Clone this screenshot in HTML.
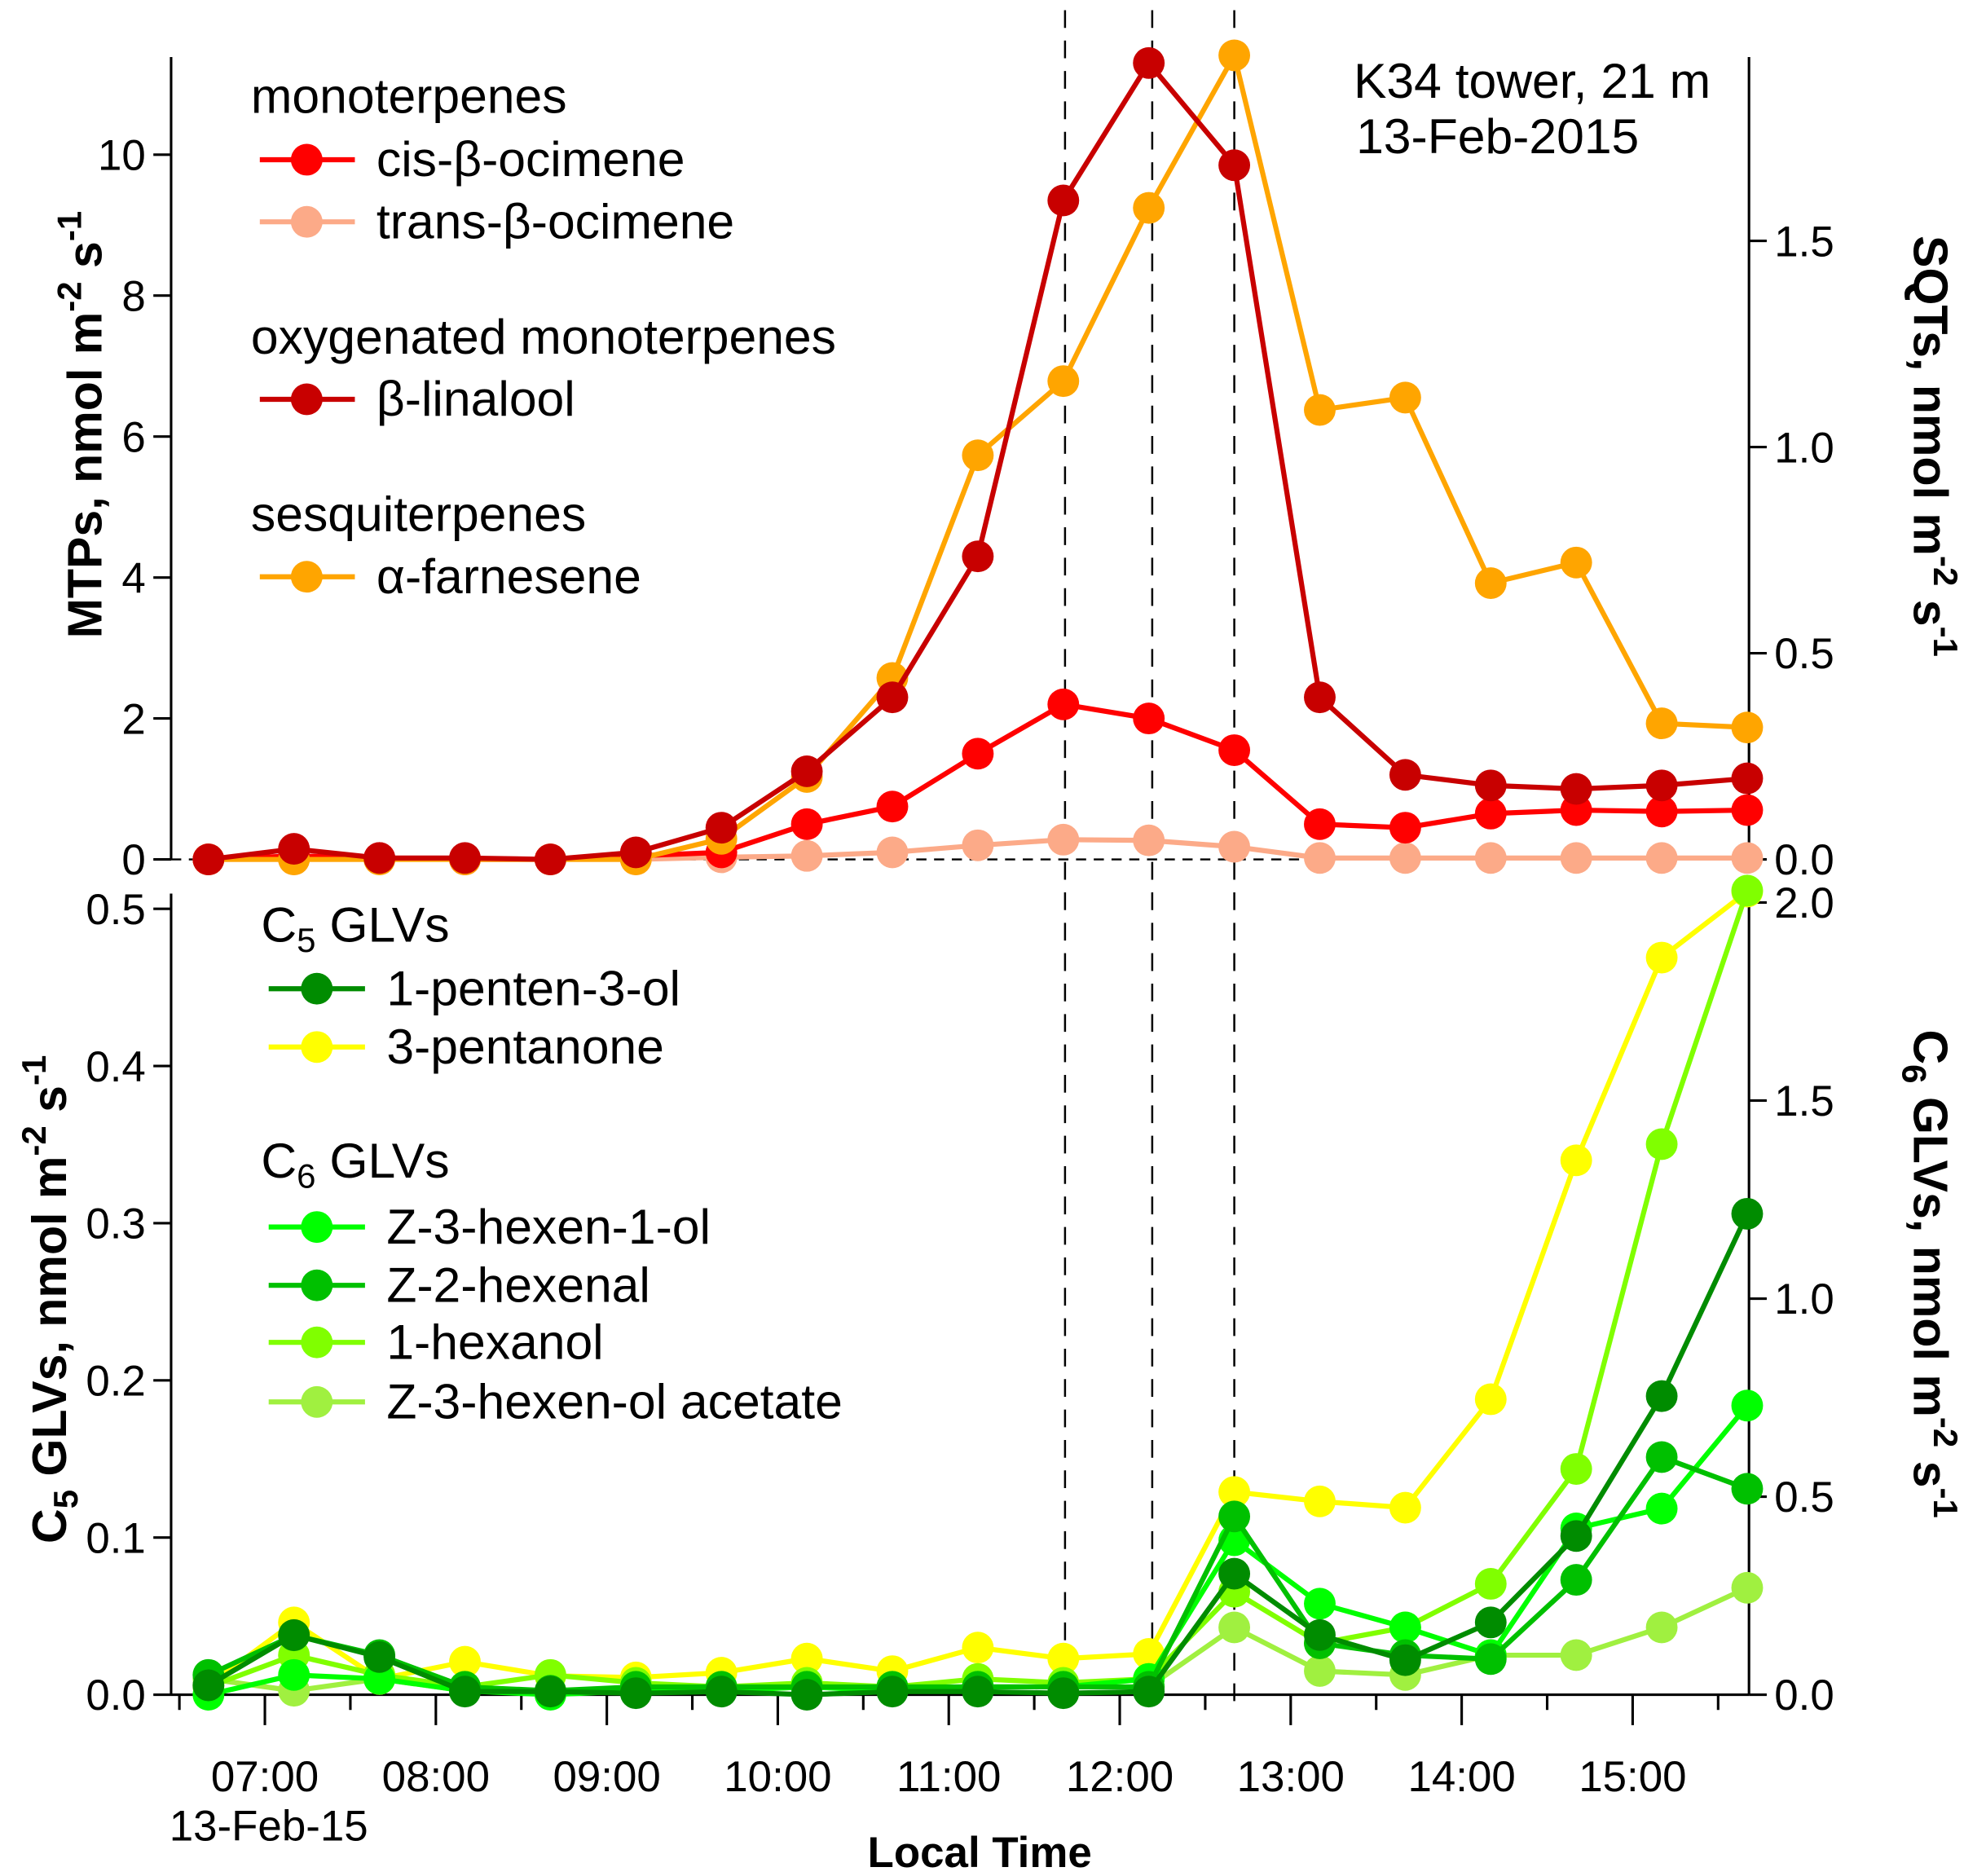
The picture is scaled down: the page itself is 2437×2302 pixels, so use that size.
<!DOCTYPE html>
<html><head><meta charset="utf-8">
<style>
html,body{margin:0;padding:0;background:#fff;}
svg{display:block;}
text{font-family:"Liberation Sans",Arial,sans-serif;fill:#000;}
</style></head>
<body>
<svg id="chart" width="2437" height="2302" viewBox="0 0 1567 1480" preserveAspectRatio="none" xmlns="http://www.w3.org/2000/svg">
<g id="axes"></g>
<g id="series"></g>
<g id="legend"></g>
</svg>
<script>
// ---------- data ----------
const times = [6.67,7.17,7.67,8.17,8.67,9.17,9.67,10.17,10.67,11.17,11.67,12.17,12.67,13.17,13.67,14.17,14.67,15.17,15.67];
const xTickHours = [7,8,9,10,11,12,13,14,15];
const xTickLabels = ["07:00","08:00","09:00","10:00","11:00","12:00","13:00","14:00","15:00"];
const eventTimes = [11.68,12.19,12.67];
const topLeftTicks = [0,2,4,6,8,10];
const topRightTicks = [0.0,0.5,1.0,1.5];
const botLeftTicks = [0.0,0.1,0.2,0.3,0.4,0.5];
const botRightTicks = [0.0,0.5,1.0,1.5,2.0];
const cisOcimene = [0,0.05,0.02,0,0,0.05,0.1,0.5,0.75,1.5,2.2,2.0,1.55,0.5,0.45,0.65,0.7,0.68,0.7];
const transOcimene = [0,0,0,0,0,0,0.03,0.05,0.1,0.2,0.28,0.27,0.18,0.02,0.02,0.02,0.02,0.02,0.02];
const linalool = [0,0.15,0.02,0.02,0,0.1,0.45,1.25,2.3,4.3,9.35,11.3,9.85,2.3,1.2,1.05,1.0,1.05,1.15];
const farnesene = [0,0,0,0,0,0,0.05,0.2,0.44,0.98,1.16,1.58,1.95,1.09,1.12,0.67,0.72,0.33,0.32];
const pentenol = [0.006,0.038,0.024,0.002,0.002,0.001,0.002,0.0,0.002,0.002,0.001,0.002,0.077,0.038,0.022,0.046,0.101,0.19,0.306];
const pentanone = [0.006,0.046,0.01,0.021,0.012,0.011,0.014,0.023,0.015,0.030,0.023,0.026,0.129,0.123,0.119,0.188,0.34,0.469,0.511];
const hexenol = [0,0.05,0.04,0.01,0,0.01,0.01,0.02,0.01,0.02,0.02,0.04,0.39,0.23,0.17,0.10,0.42,0.47,0.73];
const hexenal = [0.05,0.15,0.1,0.02,0.01,0.02,0.02,0.02,0.02,0.02,0.02,0.02,0.45,0.13,0.10,0.09,0.29,0.6,0.52];
const hexanol = [0.02,0.1,0.05,0.02,0.05,0.03,0.02,0.03,0.02,0.04,0.03,0.04,0.26,0.13,0.17,0.28,0.57,1.39,2.03];
const acetate = [0.04,0.01,0.04,0.01,0.01,0.01,0.01,0.02,0.02,0.02,0.02,0.02,0.17,0.06,0.05,0.1,0.1,0.17,0.27];

// ---------- scales ----------
const X0=135, X1=1380;
const x = h => 209 + (h-7)*134.9;
const yTL = v => 678 - v*55.6;
const yTR = v => 678 - v*325.3;
const yBL = v => 1337 - v*1240;
const yBR = v => 1337 - v*312.5;
const FS = 39, TFS = 34;

const NS="http://www.w3.org/2000/svg";
function mk(tag, attrs, parent, txt){
  const e=document.createElementNS(NS,tag);
  for(const k in attrs) e.setAttribute(k,attrs[k]);
  if(txt!==undefined) e.textContent=txt;
  parent.appendChild(e); return e;
}
const axes=document.getElementById('axes');
const ser=document.getElementById('series');
const leg=document.getElementById('legend');

let l;
l=mk('line',{x1:X0,y1:45,x2:X0,y2:678,stroke:'#000','stroke-width':2},axes);
 
l=mk('line',{x1:X1,y1:45,x2:X1,y2:678,stroke:'#000','stroke-width':2},axes);
 
l=mk('line',{x1:X0,y1:705,x2:X0,y2:1337,stroke:'#000','stroke-width':2},axes);
 
l=mk('line',{x1:X1,y1:705,x2:X1,y2:1337,stroke:'#000','stroke-width':2},axes);
 
l=mk('line',{x1:X0,y1:1337,x2:X1,y2:1337,stroke:'#000','stroke-width':2},axes);
 
l=mk('line',{x1:X0,y1:678,x2:X1,y2:678,stroke:'#000','stroke-width':1.6,'stroke-dasharray':'8,6'},axes);
 

eventTimes.forEach(t=>{
  const e=mk('line',{x1:x(t),y1:8,x2:x(t),y2:1352,stroke:'#000','stroke-width':1.6,'stroke-dasharray':'14,10'},axes);
   
});

function yTicks(ticks,scale,side,fmt,name){
  ticks.forEach(v=>{
    const y=scale(v);
    const xa = side==='L'?X0:X1;
    const t=mk('line',{x1:xa,y1:y,x2:side==='L'?xa-14:xa+14,y2:y,stroke:'#000','stroke-width':2},axes);
     
    const lb=mk('text',{x:side==='L'?xa-20:xa+20,y:y+12,'font-size':TFS,'text-anchor':side==='L'?'end':'start'},axes,fmt(v));
     
  });
}
yTicks(topLeftTicks,yTL,'L',v=>String(v),'top-left');
yTicks(topRightTicks,yTR,'R',v=>v.toFixed(1),'top-right');
yTicks(botLeftTicks,yBL,'L',v=>v.toFixed(1),'bottom-left');
yTicks(botRightTicks,yBR,'R',v=>v.toFixed(1),'bottom-right');

xTickHours.forEach((h,i)=>{
  const t=mk('line',{x1:x(h),y1:1337,x2:x(h),y2:1361,stroke:'#000','stroke-width':2},axes);
   
  const m=mk('line',{x1:x(h+0.5),y1:1337,x2:x(h+0.5),y2:1349,stroke:'#000','stroke-width':2},axes);
   
  const lb=mk('text',{x:x(h),y:1413,'font-size':TFS,'text-anchor':'middle'},axes,xTickLabels[i]);
   
});
const m0=mk('line',{x1:x(6.5),y1:1337,x2:x(6.5),y2:1349,stroke:'#000','stroke-width':2},axes);
 

function drawSeries(vals,scale,color,name){
  const g=mk('g',{},ser);
   
  const pts=vals.map((v,i)=>x(times[i]).toFixed(1)+','+scale(v).toFixed(1)).join(' ');
  const p=mk('polyline',{points:pts,fill:'none',stroke:color,'stroke-width':4,'stroke-linejoin':'round'},g);
   
  vals.forEach((v,i)=>{
    const c=mk('circle',{cx:x(times[i]),cy:scale(v),r:12.5,fill:color},g);
     
  });
}
drawSeries(transOcimene,yTL,'#fcaa88','trans-ocimene');
drawSeries(cisOcimene,yTL,'#ff0000','cis-ocimene');
drawSeries(farnesene,yTR,'#ffa500','farnesene');
drawSeries(linalool,yTL,'#c80000','linalool');
drawSeries(pentanone,yBL,'#ffff00','pentanone');
drawSeries(acetate,yBR,'#a0f040','hexenol-acetate');
drawSeries(hexanol,yBR,'#80ff00','hexanol');
drawSeries(hexenol,yBR,'#00ff00','hexenol');
drawSeries(hexenal,yBR,'#00c000','hexenal');
drawSeries(pentenol,yBL,'#008c00','pentenol');

function legEntry(y,color,label,name){
  const g=mk('g',{},leg);
   
  mk('line',{x1:205,y1:y,x2:280,y2:y,stroke:color,'stroke-width':4},g);
  mk('circle',{cx:242,cy:y,r:12.5,fill:color},g);
  mk('text',{x:297,y:y+13,'font-size':FS},g,label);
}
function legHead(x0,y,label,name){
  const t=mk('text',{x:x0,y:y,'font-size':FS},leg,label);
   
  return t;
}
legHead(198,89,'monoterpenes','legend-heading-monoterpenes');
legEntry(126,'#ff0000','cis-β-ocimene','cis');
legEntry(175,'#fcaa88','trans-β-ocimene','trans');
legHead(198,279,'oxygenated monoterpenes','legend-heading-oxygenated');
legEntry(315,'#c80000','β-linalool','linalool');
legHead(198,419,'sesquiterpenes','legend-heading-sesquiterpenes');
legEntry(455,'#ffa500','α-farnesene','farnesene');

function legEntry2(y,color,label,name){
  const g=mk('g',{},leg);
   
  mk('line',{x1:212,y1:y,x2:288,y2:y,stroke:color,'stroke-width':4},g);
  mk('circle',{cx:250,cy:y,r:12.5,fill:color},g);
  mk('text',{x:305,y:y+13,'font-size':FS},g,label);
}
let h=legHead(206,743,'C','legend-heading-c5');
mk('tspan',{'font-size':27,dy:8},h,'5'); mk('tspan',{dy:-8},h,' GLVs');
legEntry2(780,'#008c00','1-penten-3-ol','pentenol');
legEntry2(826,'#ffff00','3-pentanone','pentanone');
h=legHead(206,929,'C','legend-heading-c6');
mk('tspan',{'font-size':27,dy:8},h,'6'); mk('tspan',{dy:-8},h,' GLVs');
legEntry2(968,'#00ff00','Z-3-hexen-1-ol','hexenol');
legEntry2(1014,'#00c000','Z-2-hexenal','hexenal');
legEntry2(1059,'#80ff00','1-hexanol','hexanol');
legEntry2(1106,'#a0f040','Z-3-hexen-ol  acetate','acetate');

let a=mk('text',{x:1068,y:77,'font-size':FS},leg,'K34 tower, 21 m');
 
a=mk('text',{x:1070,y:121,'font-size':FS},leg,'13-Feb-2015');
 
a=mk('text',{x:212,y:1452,'font-size':TFS,'text-anchor':'middle'},axes,'13-Feb-15');
 
a=mk('text',{x:773,y:1473,'font-size':34,'font-weight':'bold','text-anchor':'middle'},axes,'Local Time');
 

function yTitle(cx,cy,rot,parts,name){
  const t=mk('text',{x:0,y:0,'font-size':38,'font-weight':'bold','text-anchor':'middle',transform:`translate(${cx},${cy}) rotate(${rot})`},axes);
   
  parts.forEach(p=>mk('tspan',p[1],t,p[0]));
}
yTitle(80,335,-90,[['MTPs, nmol m',{}],['-2',{'font-size':27,dy:-16}],[' s',{dy:16}],['-1',{'font-size':27,dy:-16}]],'top-left-axis-title');
yTitle(1510,352,90,[['SQTs, nmol m',{}],['-2',{'font-size':27,dy:-16}],[' s',{dy:16}],['-1',{'font-size':27,dy:-16}]],'top-right-axis-title');
yTitle(52,1025,-90,[['C',{}],['5',{'font-size':27,dy:9}],[' GLVs, nmol m',{dy:-9}],['-2',{'font-size':27,dy:-16}],[' s',{dy:16}],['-1',{'font-size':27,dy:-16}]],'bottom-left-axis-title');
yTitle(1510,1005,90,[['C',{}],['6',{'font-size':27,dy:9}],[' GLVs, nmol m',{dy:-9}],['-2',{'font-size':27,dy:-16}],[' s',{dy:16}],['-1',{'font-size':27,dy:-16}]],'bottom-right-axis-title');
</script>
</body></html>
